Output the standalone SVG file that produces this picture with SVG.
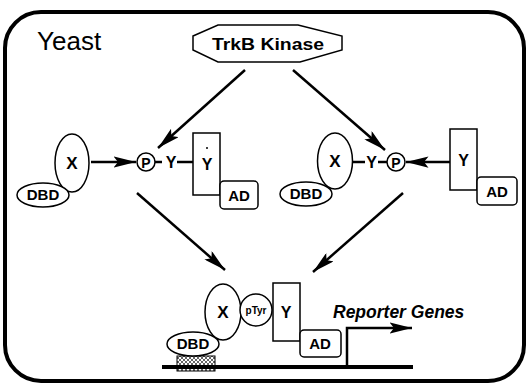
<svg xmlns="http://www.w3.org/2000/svg" width="527" height="386" viewBox="0 0 527 386">
<style>
  .ln{stroke:#000;stroke-width:2.5;fill:none}
  .sh{stroke:#000;stroke-width:1.5;fill:#fff}
  .t{font-family:"Liberation Sans",Arial,sans-serif;font-weight:bold;fill:#000;text-anchor:middle}
</style>
<defs>
  <marker id="ah" viewBox="0 0 20 10" refX="20" refY="5" markerWidth="9" markerHeight="4.5" orient="auto" markerUnits="strokeWidth">
    <path d="M0,0 L20,5 L0,10 L4,5 Z" fill="#000"/>
  </marker>
  <pattern id="hatch" width="4" height="4" patternUnits="userSpaceOnUse">
    <rect width="4" height="4" fill="#fff"/>
    <path d="M0,4 L4,0 M0,0 L4,4" stroke="#555" stroke-width="0.9"/>
  </pattern>
</defs>
<rect x="5" y="12" width="519" height="369" rx="36" ry="36" fill="#fff" stroke="#000" stroke-width="4"/>
<text x="37" y="50" style="font-family:'Liberation Sans',Arial,sans-serif;font-size:26px;fill:#000">Yeast</text>

<g id="kinase">
  <polygon class="sh" points="193,36 218,25 298,25 342,36 342,50 300,62 218,62 193,50"/>
  <text class="t" x="268" y="50" font-size="17" textLength="112" lengthAdjust="spacingAndGlyphs">TrkB Kinase</text>
</g>

<g id="complex-left">
  <ellipse class="sh" cx="72" cy="163" rx="17" ry="29"/>
  <text class="t" x="72" y="169" font-size="17">X</text>
  <ellipse class="sh" cx="43" cy="195" rx="26" ry="12"/>
  <text class="t" x="43" y="200" font-size="15">DBD</text>
  <circle class="sh" cx="146" cy="162" r="9"/>
  <text class="t" x="146" y="167.5" font-size="14">P</text>
  <line class="ln" x1="155" y1="162" x2="162" y2="162"/>
  <text class="t" x="171" y="168" font-size="16">Y</text>
  <line class="ln" x1="177" y1="162" x2="193" y2="162"/>
  <rect class="sh" x="193" y="133" width="27" height="62"/>
  <text class="t" x="207" y="170" font-size="16">Y</text>
  <circle cx="207" cy="148" r="1" fill="#000"/>
  <rect class="sh" x="220" y="181" width="38" height="28" rx="4"/>
  <text class="t" x="239" y="201" font-size="15">AD</text>
</g>

<g id="complex-right">
  <ellipse class="sh" cx="335" cy="161" rx="17.5" ry="28"/>
  <text class="t" x="335" y="167" font-size="17">X</text>
  <ellipse class="sh" cx="306" cy="194" rx="26" ry="12"/>
  <text class="t" x="306" y="199" font-size="15">DBD</text>
  <line class="ln" x1="352" y1="162" x2="365" y2="162"/>
  <text class="t" x="371.5" y="168" font-size="16">Y</text>
  <line class="ln" x1="378" y1="162" x2="387" y2="162"/>
  <circle class="sh" cx="396" cy="162" r="9"/>
  <text class="t" x="396" y="167.5" font-size="14">P</text>
  <rect class="sh" x="450" y="129" width="27" height="61"/>
  <text class="t" x="463.5" y="166" font-size="16">Y</text>
  <rect class="sh" x="477" y="177" width="40" height="28" rx="4"/>
  <text class="t" x="497" y="197" font-size="15">AD</text>
</g>

<g id="complex-bottom">
  <rect x="177" y="356" width="38" height="15" fill="url(#hatch)" stroke="#000" stroke-width="1"/>
  <ellipse class="sh" cx="223" cy="312" rx="18" ry="28"/>
  <text class="t" x="223" y="318" font-size="17">X</text>
  <ellipse class="sh" cx="193" cy="344" rx="26" ry="12"/>
  <text class="t" x="193" y="349" font-size="15">DBD</text>
  <circle class="sh" cx="256" cy="310" r="16"/>
  <text class="t" x="256" y="314" font-size="10">pTyr</text>
  <rect class="sh" x="273" y="283" width="27" height="58"/>
  <text class="t" x="286" y="318" font-size="16">Y</text>
  <rect class="sh" x="300" y="330" width="41" height="27" rx="4"/>
  <text class="t" x="320" y="349" font-size="15">AD</text>
  <text x="333" y="318" style="font-family:'Liberation Sans',Arial,sans-serif;font-style:italic;font-weight:bold;font-size:17.5px;fill:#000">Reporter Genes</text>
</g>

<g id="connectors">
  <line class="ln" x1="245" y1="70" x2="158" y2="148" marker-end="url(#ah)"/>
  <line class="ln" x1="293" y1="70" x2="385" y2="150" marker-end="url(#ah)"/>
  <line class="ln" x1="91" y1="162" x2="136" y2="162" marker-end="url(#ah)"/>
  <line class="ln" x1="450" y1="162" x2="406" y2="162" marker-end="url(#ah)"/>
  <line class="ln" x1="137" y1="193" x2="225" y2="270" marker-end="url(#ah)"/>
  <line class="ln" x1="403" y1="193" x2="313" y2="272" marker-end="url(#ah)"/>
  <line x1="162" y1="367" x2="413" y2="367" stroke="#000" stroke-width="4"/>
  <polyline class="ln" points="347,367 347,328 412,328" marker-end="url(#ah)"/>
</g>
</svg>
